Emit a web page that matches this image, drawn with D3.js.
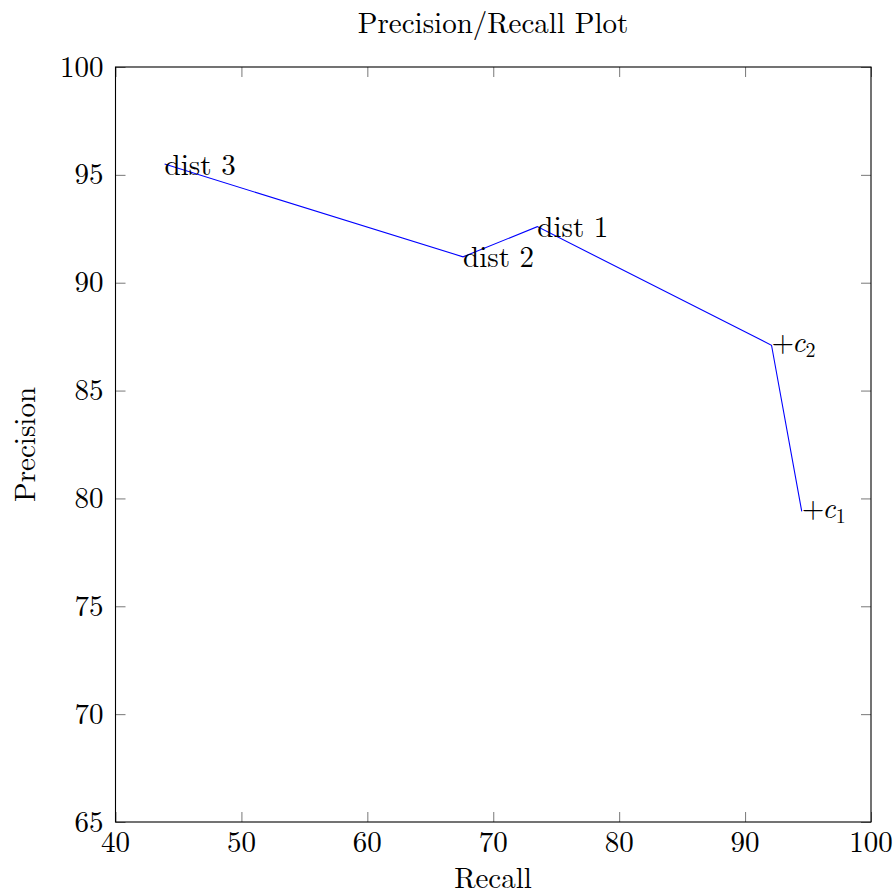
<!DOCTYPE html>
<html>
<head>
<meta charset="utf-8">
<script src="https://cdn.jsdelivr.net/npm/d3@7"></script>
<style>
  body { margin: 0; background: #fff; }
  text { font-family: "Latin Modern Roman", "CMU Serif", "DejaVu Serif", "Liberation Serif", serif; fill: #000; }
</style>
</head>
<body>
<script>
// data
const recall = [43.9, 67.6, 73.5, 92.1, 94.5]
const precision = [95.5, 91.2, 92.6, 87.1, 79.4]
const labels = ["dist 3", "dist 2", "dist 1", "c2", "c1"]
const xTicks = [40, 50, 60, 70, 80, 90, 100]
const yTicks = [65, 70, 75, 80, 85, 90, 95, 100]

const W = 896, H = 896
const plotL = 115.5, plotR = 871, plotT = 67, plotB = 822
const fs = 29

const svg = d3.select("body")
    .append("svg")
    .attr("width", W)
    .attr("height", H)

const x = d3.scaleLinear().domain([40, 100]).range([plotL, plotR])
const y = d3.scaleLinear().domain([65, 100]).range([plotB, plotT])

// ticks pointing inward, mirrored on the opposite side
svg.append("g")
    .attr("transform", `translate(0,${plotB})`)
    .call(d3.axisTop(x).tickValues(xTicks).tickSize(10).tickFormat(""))
svg.append("g")
    .attr("transform", `translate(0,${plotT})`)
    .call(d3.axisBottom(x).tickValues(xTicks).tickSize(10).tickFormat(""))
svg.append("g")
    .attr("transform", `translate(${plotL},0)`)
    .call(d3.axisRight(y).tickValues(yTicks).tickSize(10).tickFormat(""))
svg.append("g")
    .attr("transform", `translate(${plotR},0)`)
    .call(d3.axisLeft(y).tickValues(yTicks).tickSize(10).tickFormat(""))
svg.selectAll(".domain").remove()
svg.selectAll(".tick line").attr("stroke", "#555").attr("stroke-width", 0.8)

svg.append("rect")
    .attr("x", plotL).attr("y", plotT)
    .attr("width", plotR - plotL).attr("height", plotB - plotT)
    .attr("fill", "none").attr("stroke", "#000").attr("stroke-width", 1.1)

// tick labels
svg.selectAll(".xlab")
    .data(xTicks)
    .enter()
    .append("text")
    .attr("x", d => x(d))
    .attr("y", plotB + 30)
    .attr("text-anchor", "middle")
    .attr("font-size", fs)
    .text(d => d)

svg.selectAll(".ylab")
    .data(yTicks)
    .enter()
    .append("text")
    .attr("x", plotL - 12)
    .attr("y", d => y(d) + 9.5)
    .attr("text-anchor", "end")
    .attr("font-size", fs)
    .text(d => d)

// title and axis labels
svg.append("text")
    .attr("x", 493).attr("y", 33)
    .attr("text-anchor", "middle").attr("font-size", fs)
    .text("Precision/Recall Plot")

svg.append("text")
    .attr("x", 493).attr("y", 888)
    .attr("text-anchor", "middle").attr("font-size", fs)
    .text("Recall")

svg.append("text")
    .attr("transform", `translate(35,${(plotT + plotB) / 2}) rotate(-90)`)
    .attr("text-anchor", "middle").attr("font-size", fs)
    .text("Precision")

// the line
const pts = recall.map((r, i) => [r, precision[i]])
svg.append("path")
    .datum(pts)
    .attr("fill", "none")
    .attr("stroke", "blue")
    .attr("stroke-width", 1.1)
    .attr("d", d3.line().x(d => x(d[0])).y(d => y(d[1])))

// node labels
labels.forEach((lab, i) => {
    const isC = lab[0] === "c"
    const t = svg.append("text")
        .attr("x", x(recall[i]))
        .attr("y", y(precision[i]) + (isC ? 7 : 10.5))
        .attr("font-size", fs)
    if (isC) {
        t.append("tspan").text("+")
        t.append("tspan").attr("font-style", "italic").attr("dx", -2).text("c")
        t.append("tspan").attr("font-size", 20).attr("dy", 5).text(lab.slice(1))
    } else {
        t.text(lab)
    }
})
</script>
</body>
</html>
